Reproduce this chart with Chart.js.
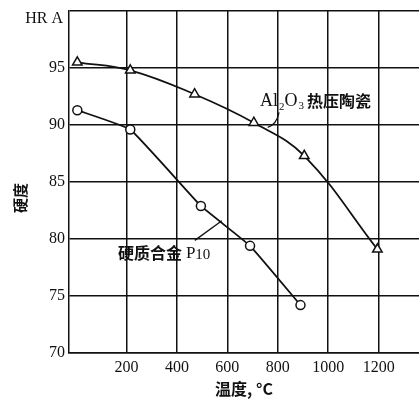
<!DOCTYPE html>
<html><head><meta charset="utf-8">
<style>html,body{margin:0;padding:0;background:#fff;overflow:hidden}canvas{display:block}</style>
<script src="https://cdn.jsdelivr.net/npm/chart.js@4.4.1/dist/chart.umd.min.js"></script>
</head><body>
<canvas id="c" width="419" height="401"></canvas>
<script>
// ---- data ----
const xTicks = [200, 400, 600, 800, 1000, 1200];
const yTicks = [70, 75, 80, 85, 90, 95, 100];
const al2o3Temp = [5, 215, 470, 705, 905, 1195];
const al2o3HRA  = [95.5, 94.8, 92.7, 90.2, 87.3, 79.1];
const p10Temp   = [5, 215, 495, 690, 890];
const p10HRA    = [91.3, 89.6, 82.9, 79.4, 74.2];
const yUnit = 'HR A';
const yTitle = '硬度';
const xTitle = '温度, °C';

const SERIF = '"Liberation Serif", "DejaVu Serif", serif';
const CJK = '"Noto Sans CJK SC", sans-serif';

function pts(xs, ys) { return xs.map((x, i) => ({x: x, y: ys[i]})); }

const annot = {
  id: 'annot',
  afterDraw(chart) {
    const ctx = chart.ctx, xs = chart.scales.x, ys = chart.scales.y;
    const X = v => xs.getPixelForValue(v), Y = v => ys.getPixelForValue(v);
    ctx.save();
    ctx.fillStyle = '#111';
    ctx.strokeStyle = '#111';
    ctx.textBaseline = 'middle';
    function runs(x, y, list) {
      for (const r of list) {
        ctx.font = r.f;
        ctx.fillText(r.t, x, y + (r.dy || 0));
        x += ctx.measureText(r.t).width + (r.gap || 0);
      }
    }
    // unit label on top of y axis
    ctx.font = '16px ' + SERIF;
    ctx.textAlign = 'right';
    ctx.fillText(yUnit, 63, chart.chartArea.top + 8);
    ctx.textAlign = 'left';
    // y title (rotated)
    ctx.save();
    ctx.translate(20, 198);
    ctx.rotate(-Math.PI / 2);
    ctx.textAlign = 'center';
    ctx.font = 'bold 15px ' + CJK;
    ctx.fillText(yTitle, 0, 0);
    ctx.restore();
    ctx.textAlign = 'left';
    // Al2O3 label
    runs(X(729), Y(92.1), [
      {t: 'Al', f: '18px ' + SERIF, gap: 1},
      {t: '2', f: '11px ' + SERIF, dy: 6},
      {t: 'O', f: '18px ' + SERIF, gap: 1},
      {t: '3', f: '11px ' + SERIF, dy: 5, gap: 3},
      {t: '热压陶瓷', f: 'bold 16px ' + CJK}
    ]);
    // P10 label
    runs(X(166), Y(78.75), [
      {t: '硬质合金', f: 'bold 16px ' + CJK, gap: 4},
      {t: 'P', f: '17px ' + SERIF},
      {t: '10', f: '15px ' + SERIF, dy: 2}
    ]);
    // leader lines
    ctx.lineWidth = 1.3;
    ctx.beginPath();
    ctx.moveTo(X(805), Y(91.1));
    ctx.quadraticCurveTo(X(795), Y(90.0), X(760), Y(89.8));
    ctx.stroke();
    ctx.beginPath();
    ctx.moveTo(X(471), Y(79.88));
    ctx.lineTo(X(578), Y(81.6));
    ctx.stroke();
    ctx.restore();
  }
};

new Chart(document.getElementById('c'), {
  type: 'line',
  data: {
    datasets: [
      {
        label: 'Al2O3热压陶瓷',
        data: pts(al2o3Temp, al2o3HRA),
        borderColor: '#111', borderWidth: 1.8,
        pointStyle: 'triangle', pointRadius: 5.5,
        pointBackgroundColor: '#fff', pointBorderColor: '#111', pointBorderWidth: 1.5,
        tension: 0.4, fill: false
      },
      {
        label: '硬质合金 P10',
        data: pts(p10Temp, p10HRA),
        borderColor: '#111', borderWidth: 1.8,
        pointStyle: 'circle', pointRadius: 4.5,
        pointBackgroundColor: '#fff', pointBorderColor: '#111', pointBorderWidth: 1.5,
        tension: 0.1, fill: false
      }
    ]
  },
  options: {
    responsive: false,
    animation: false,
    devicePixelRatio: 1,
    layout: {autoPadding: false, padding: {left: 0, right: 0, top: 11, bottom: 0}},
    plugins: {legend: {display: false}, tooltip: {enabled: false}},
    scales: {
      x: {
        type: 'linear', min: -28, max: 1360,
        afterBuildTicks: s => { s.ticks = xTicks.map(v => ({value: v})); },
        afterFit: s => { s.height = 48; s.paddingLeft = 0; s.paddingRight = 0; },
        grid: {color: '#111', lineWidth: 1.5, drawTicks: false},
        border: {display: true, color: '#111', width: 1.5},
        ticks: {color: '#111', font: {family: SERIF, size: 16}, padding: 5, maxRotation: 0,
                callback: v => String(v)},
        title: {display: true, text: xTitle, color: '#111',
                font: {family: CJK, size: 16, weight: 'bold'}, padding: {top: 0, bottom: 2}}
      },
      y: {
        type: 'linear', min: 70, max: 100,
        afterBuildTicks: s => { s.ticks = yTicks.map(v => ({value: v})); },
        afterFit: s => { s.width = 69; s.paddingTop = 0; s.paddingBottom = 0; },
        grid: {color: '#111', lineWidth: 1.5, drawTicks: false},
        border: {display: true, color: '#111', width: 1.5},
        ticks: {color: '#111', font: {family: SERIF, size: 16}, padding: 4,
                callback: v => (v === 100 ? '' : String(v))}
      }
    }
  },
  plugins: [annot]
});
</script>
</body></html>
